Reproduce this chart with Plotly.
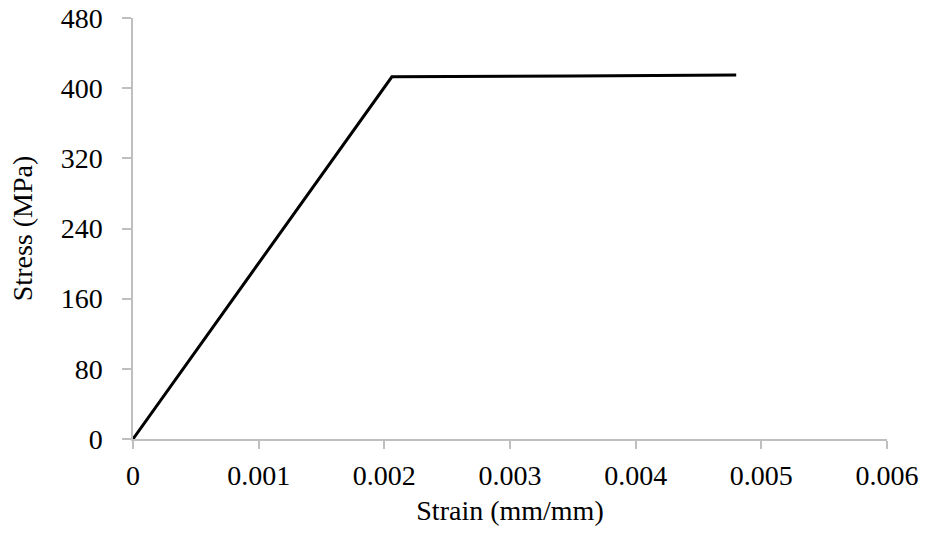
import plotly.graph_objects as go

# Stress-strain curve: linear elastic branch followed by a yield plateau
strain = [0.0, 0.00206, 0.0035, 0.0048]
stress = [0.0, 413.0, 414.0, 415.0]

x_ticks = [0, 0.001, 0.002, 0.003, 0.004, 0.005, 0.006]
x_tick_labels = ["0", "0.001", "0.002", "0.003", "0.004", "0.005", "0.006"]
y_ticks = [0, 80, 160, 240, 320, 400, 480]
y_tick_labels = ["0", "80", "160", "240", "320", "400", "480"]

font_family = "Liberation Serif, Times New Roman, serif"
axis_grey = "#bfbfbf"
fs = 28

fig = go.Figure()
fig.add_trace(go.Scatter(
    x=strain, y=stress, mode="lines",
    line=dict(color="black", width=3),
    showlegend=False,
))

fig.update_layout(
    width=925, height=536,
    margin=dict(l=133, r=38, t=18, b=97),
    paper_bgcolor="white", plot_bgcolor="white",
    font=dict(family=font_family, size=fs, color="black"),
)

fig.update_xaxes(
    range=[0, 0.006], automargin=False,
    tickvals=x_ticks, ticktext=x_tick_labels,
    showgrid=False, zeroline=False,
    showline=True, linecolor=axis_grey, linewidth=1.5,
    ticks="outside", ticklen=8, tickcolor=axis_grey, tickwidth=1.5,
    ticklabelstandoff=3,
    tickfont=dict(size=fs),
    title=dict(text="Strain (mm/mm)", font=dict(size=fs), standoff=10),
)
fig.update_yaxes(
    range=[0, 480], automargin=False,
    tickvals=y_ticks, ticktext=y_tick_labels,
    showgrid=False, zeroline=False,
    showline=True, linecolor=axis_grey, linewidth=1.5,
    ticks="outside", ticklen=9, tickcolor=axis_grey, tickwidth=1.5,
    ticklabelstandoff=14,
    tickfont=dict(size=fs),
    title=dict(text="Stress (MPa)", font=dict(size=fs), standoff=20),
)

fig.write_html("out.html")
